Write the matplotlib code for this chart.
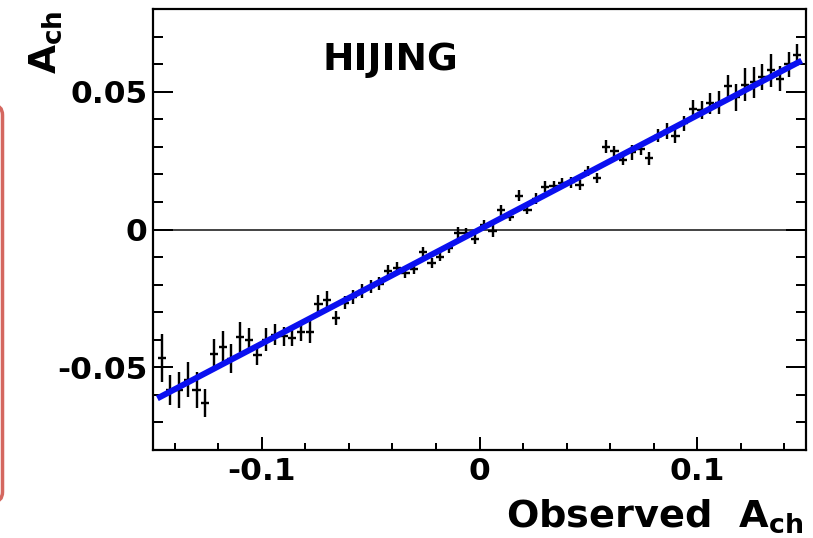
import matplotlib
matplotlib.use("Agg")
import matplotlib.pyplot as plt
from matplotlib.ticker import MultipleLocator, FixedLocator
from matplotlib.patches import FancyBboxPatch
import numpy as np

# Binned HIJING points: observed charge asymmetry vs. true A_ch
observed_ach = [
    -0.146, -0.142, -0.138, -0.134, -0.130, -0.126, -0.122, -0.118, -0.114, -0.110,
    -0.106, -0.102, -0.098, -0.094, -0.090, -0.086, -0.082, -0.078, -0.074, -0.070,
    -0.066, -0.062, -0.058, -0.054, -0.050, -0.046, -0.042, -0.038, -0.034, -0.030,
    -0.026, -0.022, -0.018, -0.014, -0.010, -0.006, -0.002, 0.002, 0.006, 0.010,
    0.014, 0.018, 0.022, 0.026, 0.030, 0.034, 0.038, 0.042, 0.046, 0.050,
    0.054, 0.058, 0.062, 0.066, 0.070, 0.074, 0.078, 0.082, 0.086, 0.090,
    0.094, 0.098, 0.102, 0.106, 0.110, 0.114, 0.118, 0.122, 0.126, 0.130,
    0.134, 0.138, 0.142, 0.146,
]
ach = [
    -0.0466, -0.0581, -0.0581, -0.0545, -0.0583, -0.0628, -0.0450, -0.0426, -0.0469, -0.0390,
    -0.0400, -0.0457, -0.0400, -0.0382, -0.0388, -0.0392, -0.0372, -0.0372, -0.0269, -0.0255,
    -0.0321, -0.0266, -0.0245, -0.0223, -0.0207, -0.0197, -0.0149, -0.0140, -0.0159, -0.0142,
    -0.0083, -0.0121, -0.0098, -0.0068, -0.0011, -0.0014, -0.0033, 0.0018, -0.0005, 0.0070,
    0.0047, 0.0123, 0.0071, 0.0111, 0.0156, 0.0159, 0.0168, 0.0171, 0.0162, 0.0212,
    0.0186, 0.0301, 0.0284, 0.0253, 0.0280, 0.0291, 0.0258, 0.0341, 0.0357, 0.0339,
    0.0386, 0.0437, 0.0435, 0.0458, 0.0460, 0.0522, 0.0479, 0.0526, 0.0534, 0.0553,
    0.0578, 0.0547, 0.0600, 0.0634,
]
ach_err = [
    0.0086, 0.0054, 0.0065, 0.0063, 0.0066, 0.0051, 0.0051, 0.0059, 0.0053, 0.0056,
    0.0041, 0.0033, 0.0042, 0.0038, 0.0036, 0.0030, 0.0033, 0.0040, 0.0030, 0.0033,
    0.0026, 0.0024, 0.0027, 0.0024, 0.0025, 0.0024, 0.0021, 0.0021, 0.0018, 0.0020,
    0.0020, 0.0019, 0.0017, 0.0018, 0.0020, 0.0018, 0.0018, 0.0018, 0.0024, 0.0020,
    0.0015, 0.0019, 0.0016, 0.0020, 0.0020, 0.0018, 0.0018, 0.0019, 0.0018, 0.0018,
    0.0018, 0.0022, 0.0018, 0.0020, 0.0027, 0.0021, 0.0024, 0.0024, 0.0030, 0.0025,
    0.0027, 0.0033, 0.0033, 0.0039, 0.0042, 0.0040, 0.0048, 0.0060, 0.0056, 0.0048,
    0.0060, 0.0045, 0.0045, 0.0039,
]
bin_half_width = 0.0019

# Linear fit A_ch = p0 + p1 * observed
fit_p0 = 0.0
fit_p1 = 0.414
fit_range = (-0.148, 0.148)

x_ticks = [-0.1, 0.0, 0.1]
x_tick_labels = ["-0.1", "0", "0.1"]
y_ticks = [-0.05, 0.0, 0.05]
y_tick_labels = ["-0.05", "0", "0.05"]

FONT = "DejaVu Sans"
plt.rcParams["font.family"] = [FONT]
plt.rcParams["mathtext.fontset"] = "dejavusans"

PX = 72.0 / 100.0  # points per pixel at 100 dpi

fig = plt.figure(figsize=(8.13, 5.38), dpi=100)
ax = fig.add_axes([153 / 813, 1 - 450 / 538, (806 - 153) / 813, (450 - 9) / 538])

ax.set_xlim(-0.15, 0.15)
ax.set_ylim(-0.08, 0.08)

# zero reference line
ax.axhline(0.0, color="#1a1a1a", lw=1.6 * PX, zorder=1)

# data points
ax.errorbar(observed_ach, ach, yerr=ach_err, xerr=bin_half_width,
            fmt="none", ecolor="black", elinewidth=2.4 * PX, capsize=0, zorder=2)

# fit line
xf = np.linspace(fit_range[0], fit_range[1], 2)
ax.plot(xf, fit_p0 + fit_p1 * xf, color="#0a10f0", lw=6.0 * PX,
        solid_capstyle="butt", zorder=3)

# axes styling
for s in ax.spines.values():
    s.set_linewidth(2.2 * PX)
    s.set_zorder(5)

ax.xaxis.set_major_locator(FixedLocator(x_ticks))
ax.set_xticklabels(x_tick_labels)
ax.yaxis.set_major_locator(FixedLocator(y_ticks))
ax.set_yticklabels(y_tick_labels)
ax.xaxis.set_minor_locator(MultipleLocator(0.02))
ax.yaxis.set_minor_locator(MultipleLocator(0.01))

ax.tick_params(axis="x", which="major", direction="in", length=13 * PX,
               width=2.0 * PX, top=False, pad=5)
ax.tick_params(axis="x", which="minor", direction="in", length=7 * PX,
               width=2.0 * PX, top=False)
ax.tick_params(axis="y", which="major", direction="in", length=20 * PX,
               width=2.0 * PX, right=True, pad=4)
ax.tick_params(axis="y", which="minor", direction="in", length=10 * PX,
               width=2.0 * PX, right=True)
for lab in ax.get_xticklabels() + ax.get_yticklabels():
    lab.set_fontweight("bold")
    lab.set_fontsize(22.5)

# labels
fig.text(803 / 813, 1 - 527 / 538, r"Observed  A$_{\mathbf{ch}}$",
         ha="right", va="baseline", fontsize=27.5, fontweight="bold")
fig.text(56 / 813, 1 - 10 / 538, r"A$_{\mathbf{ch}}$", rotation=90,
         rotation_mode="anchor", ha="right", va="baseline",
         fontsize=27, fontweight="bold")
ax.text(322 / 813, 1 - 70 / 538, "HIJING", transform=fig.transFigure,
        ha="left", va="baseline", fontsize=27, fontweight="bold")

# framed panel edge at the left margin
box = FancyBboxPatch((-1.0, 0.36), 1.025, 3.97,
                     boxstyle="round,pad=0,rounding_size=0.1",
                     transform=fig.dpi_scale_trans, fill=False,
                     edgecolor="#d4675f", linewidth=3.5 * PX, clip_on=False)
fig.patches.append(box)

fig.savefig("out.png", dpi=100)
